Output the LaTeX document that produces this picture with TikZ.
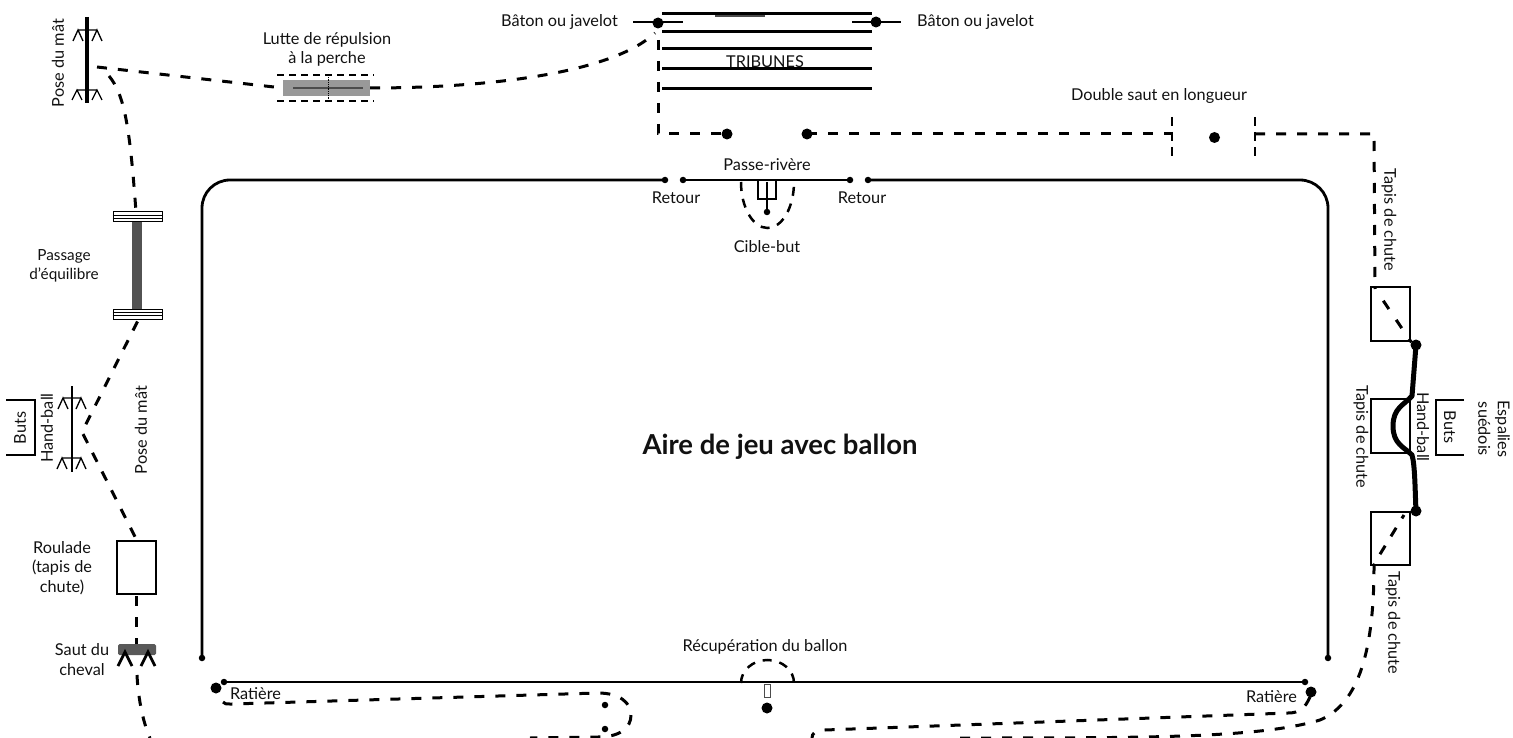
\documentclass[tikz,border=0pt]{standalone}
\usepackage{fontspec}
\setmainfont{Lato}
\definecolor{ink}{HTML}{111111}
\tikzset{
 lab/.style={font=\fontsize{16.3}{19.5}\selectfont,inner sep=0pt,align=center,text=ink},
 wall/.style={line width=2.8pt,black},
 thin/.style={line width=1.3pt,black},
 dline/.style={line width=3pt,black,dash pattern=on 10pt off 11pt},
 sdline/.style={line width=2.5pt,black,dash pattern=on 7pt off 5pt},
 sdot/.style={circle,fill=black,inner sep=0pt,minimum size=6.5pt},
 bdot/.style={circle,fill=black,inner sep=0pt,minimum size=11pt},
 mat/.style={draw=black,line width=2.8pt,fill=white,inner sep=0pt},
 beam/.style={draw=black,line width=1pt,fill=white},
 seat/.style={line width=3pt,black},
}
\begin{document}
\begin{tikzpicture}[x=1pt,y=-1pt]
\useasboundingbox (0,0) rectangle (1513,738);
% court
\node[sdot] (wallA) at (202,658) {};
\node[sdot] (wallB) at (665,180) {};
\node[sdot] (wallC) at (683,180) {};
\node[sdot] (wallD) at (850,180) {};
\node[sdot] (wallE) at (868,180) {};
\node[sdot] (wallF) at (1328,658) {};
\node[sdot] (wallG) at (224,682) {};
\node[sdot] (wallH) at (1305,682) {};
\draw[wall] (wallA.center) -- (202,208) arc[start angle=180,end angle=270,radius=28] -- (wallB.center);
\draw[wall] (wallC.center) -- (wallD.center);
\draw[wall] (wallE.center) -- (1300,180) arc[start angle=270,end angle=360,radius=28] -- (wallF.center);
\draw[wall] (wallG.center) -- (wallH.center);
\node[font=\fontsize{27.5}{30}\selectfont\bfseries,inner sep=0pt,text=ink] (aire) at (780,447) {Aire de jeu avec ballon};
% left top pole
\coordinate (poleA1) at (87,17); \coordinate (poleA2) at (87,103);
\draw[line width=3.2pt] (poleA1) -- (poleA2);
\draw[thin] (78,30) -- (97,30) (73,41) -- (78,30) -- (83,41) (92,41) -- (97,30) -- (102,41);
\draw[thin] (77,90) -- (97,90) (72,100) -- (77,90) -- (82,100) (92,100) -- (97,90) -- (102,100);
\node[lab,rotate=90] (poseA) at (58,63) {Pose du mât};
% lutte
\node[lab] (lutte) at (327,49.5) {Lutte de répulsion\\[0pt]à la perche};
\node[fill=black!40,inner sep=0pt,minimum width=87pt,minimum height=16pt] (perche) at (326.5,88) {};
\draw[line width=1.3pt,black!70] (293,88) -- (363,88);
\draw[line width=.8pt,densely dotted] (328,75) -- (328,101);
\draw[sdline] (277,75) -- (374,75);
\draw[sdline] (277,101) -- (374,101);
\coordinate (nA) at (97,67);
\coordinate (nB) at (109,76);
\draw[dline] (nA) -- (perche.west);
\draw[dline] (nB) .. controls (125,95) and (130,130) .. (136,212);
\coordinate (tribD) at (655,33);
\draw[dline] (perche.east) .. controls (480,88) and (610,75) .. (tribD);
% passage
\node[beam,minimum width=49pt,minimum height=10pt,inner sep=0pt] (beamA) at (137.5,217) {};
\node[beam,minimum width=49pt,minimum height=10pt,inner sep=0pt] (beamB) at (137.5,314) {};
\draw[line width=.9pt] (beamA.west)+(0,-1.7) -- +(49,-1.7) (beamA.west)+(0,1.7) -- +(49,1.7);
\draw[line width=.9pt] (beamB.west)+(0,-1.7) -- +(49,-1.7) (beamB.west)+(0,1.7) -- +(49,1.7);
\fill[black!68] (132,222) rectangle (142,309);
\node[lab,font=\fontsize{15.3}{19.5}\selectfont] (passage) at (64,266) {Passage\\[0pt]d'équilibre};
% hand-ball left
\draw[line width=2.8pt] (72,386) -- (72,472);
\draw[thin] (63,398) -- (81,398) (58,409) -- (63,398) -- (68,409) (76,409) -- (81,398) -- (86,409);
\draw[thin] (62,458) -- (81,458) (57,469) -- (62,458) -- (67,469) (76,469) -- (81,458) -- (86,469);
\draw[line width=2.8pt] (6,400) -- (35,400) -- (35,455) -- (6,455);
\node[lab,rotate=90] (butsL) at (20,428) {Buts};
\node[lab,rotate=90] (handL) at (47,428) {Hand-ball};
\node[lab,rotate=90] (poseB) at (141,430) {Pose du mât};
% roulade
\node[mat,minimum width=39pt,minimum height=53pt] (roulade) at (136.5,567.5) {};
\node[lab] (rouladeT) at (62,568) {Roulade\\[0pt](tapis de\\[0pt]chute)};
\coordinate (nC) at (82,432);
\draw[dline] (beamB.south) ++(0,2) -- (nC) -- (roulade.north);
\draw[dline] (roulade.south) ++(0,1) -- (136.5,652);
% saut
\node[rounded corners=1.5pt,fill=black!65,minimum width=38pt,minimum height=11pt,inner sep=0pt] (cheval) at (137,649.5) {};
\draw[line width=2.8pt] (118,666) -- (125,652) -- (132,666) (141,666) -- (148,652) -- (155,666);
\node[lab] (sautT) at (82,659.5) {Saut du\\[0pt]cheval};
\coordinate (nD) at (150,738);
\draw[dline] (137,675) .. controls (138,695) and (142,720) .. (nD);
% tribunes
\foreach \yy in {14,32,49,69,89} \draw[seat] (662,\yy) -- (872,\yy);
\draw[line width=1.2pt,black!70] (715,16) -- (765,16);
\node[lab] (trib) at (765,62) {TRIBUNES};
\node[bdot] (batA) at (658,23) {};
\node[bdot] (batB) at (876,22) {};
\draw[thin] (633,22) -- (683,22);
\draw[thin] (852,22) -- (901,22);
\node[lab] (batAT) at (559.5,21.5) {Bâton ou javelot};
\node[lab] (batBT) at (975.5,21.5) {Bâton ou javelot};
\node[bdot] (dotA) at (727,134) {};
\node[bdot] (dotB) at (807,134) {};
\node[bdot] (dotC) at (1214.5,137.5) {};
\coordinate (trA) at (658,40);
\draw[dline] (trA) -- (658,134) -- (dotA.center);
\coordinate (sautA) at (1172,134);
\coordinate (sautB) at (1255,134);
\draw[dline] (dotB.center) -- (sautA);
\draw[line width=2.8pt,dash pattern=on 9pt off 6pt] (1172,117) -- (1172,157);
\draw[line width=2.8pt,dash pattern=on 9pt off 6pt] (1255,117) -- (1255,157);
\node[lab] (dbl) at (1159,96) {Double saut en longueur};
% passe-riviere
\node[lab] (passeT) at (767,165) {Passe-rivère};
\node[lab] (retA) at (676,198) {Retour};
\node[lab] (retB) at (862,198) {Retour};
\node[lab] (cible) at (767,247) {Cible-but};
\draw[line width=2.6pt] (758,180) -- (758,199) -- (776,199) -- (776,180);
\node[sdot] (cibleD) at (767,212) {};
\draw[line width=2.2pt] (767,182) -- (cibleD.center);
\draw[line width=2.5pt,dash pattern=on 9pt off 8pt] (741,182) arc[start angle=180,end angle=360,x radius=26.5,y radius=-46];
% recuperation
\node[lab] (recup) at (765,647) {Récupération du ballon};
\draw[line width=2.5pt,dash pattern=on 9pt off 8pt] (741,683) arc[start angle=180,end angle=0,x radius=26.5,y radius=-23];
\draw[line width=.8pt,black!70,fill=white] (764,684) rectangle (770,697);
\node[bdot] (recD) at (767,708) {};
% ratiere
\node[bdot] (ratA) at (216,688) {};
\node[bdot] (ratB) at (1311,692) {};
\node[lab] (ratAT) at (255.5,694) {Ratière};
\node[lab] (ratBT) at (1271.5,697) {Ratière};
\node[sdot] (loopA) at (605,705) {};
\node[sdot] (loopB) at (605,729) {};
\draw[dline] (223,702) .. controls (225,704) .. (232,704) -- (598,693) .. controls (620,693) and (631,703) .. (631,715) .. controls (631,728) and (620,737) .. (598,737) -- (530,738);
\coordinate (hook) at (812,738);
\draw[dline] (1310,697) .. controls (1305,708) and (1300,713) .. (1288,713) -- (825,730) .. controls (815,731) and (812,733) .. (hook);
% right mats
\node[mat,minimum width=39pt,minimum height=54pt] (matA) at (1390.5,314) {};
\node[mat,minimum width=39pt,minimum height=54pt] (matB) at (1390.5,426) {};
\node[mat,minimum width=39pt,minimum height=53pt] (matC) at (1390.5,538.5) {};
\draw[dline] (sautB) -- (1374,134) -- (1375,289);
\draw[dline,dash pattern=on 10pt off 13pt,dash phase=10pt] (1376,290) -- (matA.south east);
\draw[dline] (960,738) .. controls (1150,738) and (1260,738) .. (1320,720) .. controls (1355,705) and (1374,660) .. (1374,566);
\draw[dline,dash phase=6pt] (1404,515) -- (1374,564);
% thick rail
\node[bdot] (railA) at (1416,345) {};
\node[bdot] (railB) at (1416,511) {};
\draw[line width=5pt,line join=round] (railA.center) -- (1412,396) .. controls (1404,405) and (1393,408) .. (1393,426) .. controls (1393,444) and (1404,447) .. (1412,455) .. controls (1415,465) and (1415,490) .. (railB.center);
\node[lab,rotate=-90] (handR) at (1423,427) {Hand-ball};
\node[lab,rotate=-90] (butsR) at (1450,427) {Buts};
\draw[line width=2.8pt] (1464,400) -- (1436,400) -- (1436,455) -- (1464,455);
\node[lab,rotate=-90] (espal) at (1494,429) {Espalies\\[0pt]suédois};
\node[lab,rotate=-90] (tapisA) at (1389,220) {Tapis de chute};
\node[lab,rotate=-90] (tapisB) at (1361,437) {Tapis de chute};
\node[lab,rotate=-90] (tapisC) at (1393,623) {Tapis de chute};
\end{tikzpicture}
\end{document}
